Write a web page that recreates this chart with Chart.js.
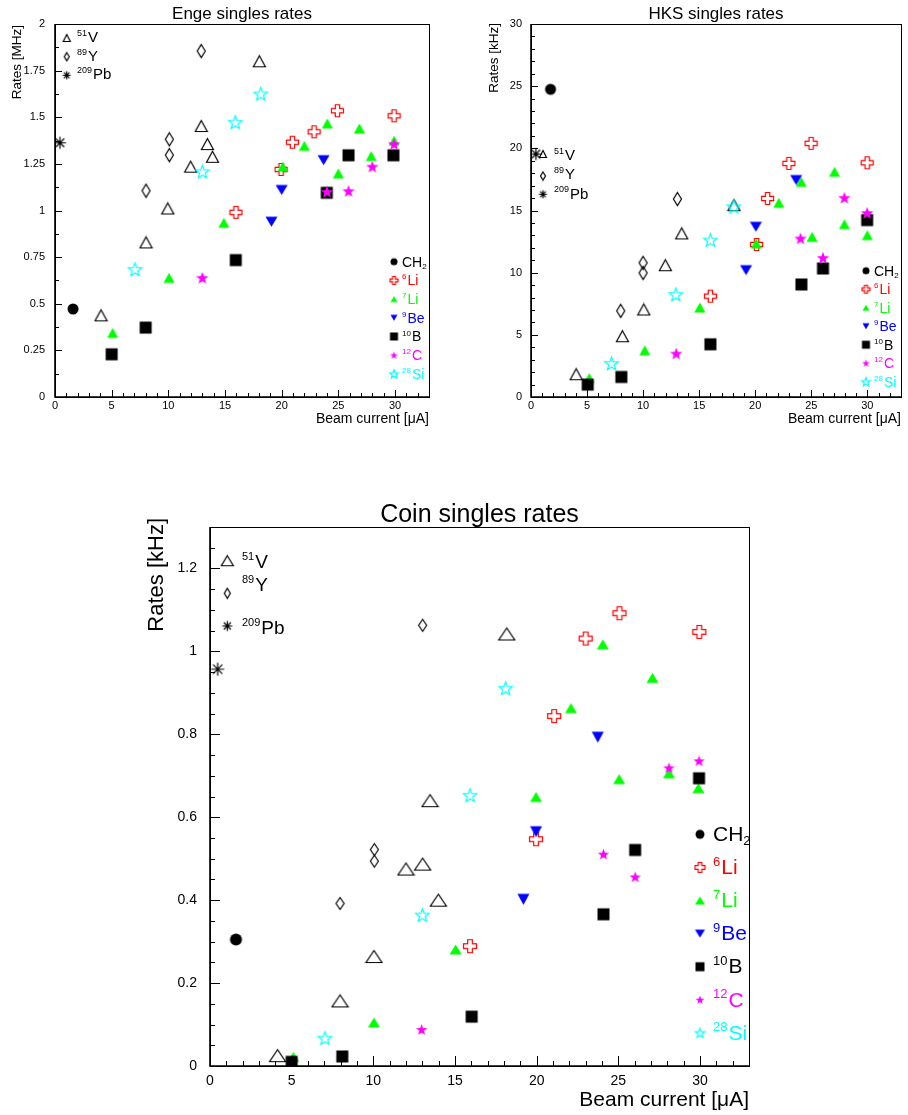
<!DOCTYPE html>
<html>
<head>
<meta charset="utf-8">
<script src="https://cdn.jsdelivr.net/npm/chart.js@4.4.1/dist/chart.umd.min.js"></script>
<style>
  body { margin: 0; background: #fff; width: 908px; height: 1115px; position: relative; overflow: hidden; }
  canvas { position: absolute; }
</style>
</head>
<body>
<canvas id="enge" width="440" height="432" style="left:0;top:0"></canvas>
<canvas id="hks" width="450" height="432" style="left:458px;top:0"></canvas>
<canvas id="coin" width="640" height="625" style="left:130px;top:490px"></canvas>
<script>
// ---- data (beam current in uA, rate) ----
const xTickVals = [0, 5, 10, 15, 20, 25, 30];
const xTickText = ['0', '5', '10', '15', '20', '25', '30'];

const engeYTickVals = [0, 0.25, 0.5, 0.75, 1, 1.25, 1.5, 1.75, 2];
const engeYTickText = ['0', '0.25', '0.5', '0.75', '1', '1.25', '1.5', '1.75', '2'];
const hksYTickVals = [0, 5, 10, 15, 20, 25, 30];
const hksYTickText = ['0', '5', '10', '15', '20', '25', '30'];
const coinYTickVals = [0, 0.2, 0.4, 0.6, 0.8, 1, 1.2];
const coinYTickText = ['0', '0.2', '0.4', '0.6', '0.8', '1', '1.2'];

const seriesSup  = ['51', '89', '209', '', '6', '7', '9', '10', '12', '28'];
const seriesMain = ['V', 'Y', 'Pb', 'CH', 'Li', 'Li', 'Be', 'B', 'C', 'Si'];
const seriesSub  = ['', '', '', '2', '', '', '', '', '', ''];
const seriesColors = ['#000000', '#000000', '#000000', '#000000', '#ff0000', '#00ff00', '#0000ff', '#000000', '#ff00ff', '#00ffff'];

// Enge [MHz]
const engeV = [[4.06, 0.438], [8.03, 0.829], [9.95, 1.011], [11.97, 1.235], [12.9, 1.453], [13.45, 1.356], [13.9, 1.288], [18.03, 1.80]];
const engeY = [[8.03, 1.106], [10.09, 1.297], [10.09, 1.382], [12.9, 1.855]];
const engePb = [[0.44, 1.363]];
const engeCH2 = [[1.59, 0.472]];
const engeLi6 = [[15.97, 0.99], [19.95, 1.22], [20.95, 1.366], [22.86, 1.422], [24.92, 1.535], [29.92, 1.508]];
const engeLi7 = [[5.09, 0.344], [10.06, 0.639], [14.9, 0.934], [20.1, 1.235], [22.0, 1.347], [24.03, 1.467], [25.0, 1.199], [26.86, 1.44], [27.9, 1.292], [29.92, 1.374]];
const engeBe9 = [[19.1, 0.94], [20.0, 1.11], [23.7, 1.27]];
const engeB10 = [[5.0, 0.229], [8.0, 0.372], [15.95, 0.734], [23.98, 1.095], [25.9, 1.296], [29.86, 1.296]];
const engeC12 = [[13.0, 0.639], [24.0, 1.10], [25.9, 1.104], [28.0, 1.235], [29.92, 1.356]];
const engeSi28 = [[7.06, 0.684], [13.0, 1.208], [15.9, 1.473], [18.15, 1.625]];

// HKS [kHz]
const hksV = [[4.03, 1.83], [8.15, 4.89], [10.06, 7.04], [11.98, 10.6], [13.44, 13.16], [18.1, 15.43]];
const hksY = [[8.0, 6.93], [10.0, 9.98], [10.0, 10.79], [13.06, 15.92]];
const hksPb = [[0.44, 19.54]];
const hksCH2 = [[1.74, 24.75]];
const hksLi6 = [[16.0, 8.11], [20.12, 12.27], [21.1, 15.97], [23.0, 18.79], [24.98, 20.4], [29.98, 18.84]];
const hksLi7 = [[5.2, 1.53], [10.15, 3.76], [15.06, 7.2], [20.1, 12.35], [22.1, 15.62], [24.1, 17.31], [25.07, 12.88], [27.07, 18.12], [27.95, 13.9], [30.0, 13.02]];
const hksBe9 = [[19.18, 10.2], [20.06, 13.69], [23.65, 17.45]];
const hksB10 = [[5.06, 1.0], [8.06, 1.61], [16.0, 4.24], [24.12, 9.05], [26.04, 10.34], [29.98, 14.23]];
const hksC12 = [[12.95, 3.49], [24.04, 12.75], [26.04, 11.19], [27.95, 16.02], [29.98, 14.8]];
const hksSi28 = [[7.18, 2.69], [12.92, 8.24], [16.0, 12.62], [18.09, 15.3]];

// Coin [kHz]
const coinV = [[4.14, 0.025], [7.96, 0.157], [10.04, 0.264], [12.0, 0.475], [13.02, 0.487], [13.47, 0.64], [13.98, 0.40], [18.17, 1.042]];
const coinY = [[7.96, 0.392], [10.06, 0.494], [10.06, 0.522], [13.02, 1.063]];
const coinPb = [[0.47, 0.957]];
const coinCH2 = [[1.59, 0.305]];
const coinLi6 = [[15.92, 0.289], [19.96, 0.547], [21.07, 0.844], [23.0, 1.031], [25.07, 1.092], [29.96, 1.047]];
const coinLi7 = [[5.1, 0.022], [10.04, 0.105], [15.04, 0.281], [19.96, 0.649], [22.1, 0.863], [24.05, 1.017], [25.05, 0.692], [27.09, 0.936], [28.1, 0.706], [29.9, 0.67]];
const coinBe9 = [[19.19, 0.402], [19.96, 0.565], [23.74, 0.793]];
const coinB10 = [[5.0, 0.01], [8.1, 0.023], [16.02, 0.119], [24.09, 0.366], [26.03, 0.521], [29.94, 0.694]];
const coinC12 = [[12.96, 0.088], [24.09, 0.511], [26.03, 0.456], [28.1, 0.719], [29.94, 0.736]];
const coinSi28 = [[7.04, 0.067], [13.0, 0.364], [15.92, 0.653], [18.1, 0.911]];

// ---- styling ----
const FONT = '"Liberation Sans", Arial, sans-serif';
const font = s => s + 'px ' + FONT;
const shapes = ['otri', 'diamond', 'aster', 'circle', 'ocross', 'tri', 'dtri', 'square', 'star', 'ostar'];

// draws a PAW-like marker into its own small canvas (used as pointStyle)
function marker(shape, color, w, h) {
  const c = document.createElement('canvas');
  c.width = w + 3; c.height = h + 3;
  const g = c.getContext('2d');
  g.translate(c.width / 2, c.height / 2);
  g.fillStyle = color; g.strokeStyle = color; g.lineWidth = 1.2;
  const a = w / 2, b = h / 2;
  g.beginPath();
  if (shape === 'otri' || shape === 'tri') {
    g.moveTo(0, -b); g.lineTo(a, b); g.lineTo(-a, b); g.closePath();
  } else if (shape === 'dtri') {
    g.moveTo(-a, -b); g.lineTo(a, -b); g.lineTo(0, b); g.closePath();
  } else if (shape === 'diamond') {
    g.moveTo(0, -b); g.lineTo(a, 0); g.lineTo(0, b); g.lineTo(-a, 0); g.closePath();
  } else if (shape === 'circle') {
    g.arc(0, 0, a, 0, Math.PI * 2);
  } else if (shape === 'square') {
    g.rect(-a, -b, w, h);
  } else if (shape === 'ocross') {
    const t = a * 0.36;
    g.moveTo(-t, -a); g.lineTo(t, -a); g.lineTo(t, -t); g.lineTo(a, -t); g.lineTo(a, t); g.lineTo(t, t);
    g.lineTo(t, a); g.lineTo(-t, a); g.lineTo(-t, t); g.lineTo(-a, t); g.lineTo(-a, -t); g.lineTo(-t, -t); g.closePath();
  } else if (shape === 'star' || shape === 'ostar') {
    for (let k = 0; k < 10; k++) {
      const r = k % 2 ? a * 0.42 : a;
      const ang = -Math.PI / 2 + k * Math.PI / 5;
      g.lineTo(Math.cos(ang) * r, Math.sin(ang) * r + a * 0.08);
    }
    g.closePath();
  } else if (shape === 'aster') {
    for (let k = 0; k < 4; k++) {
      const ang = k * Math.PI / 4;
      g.moveTo(-Math.cos(ang) * a, -Math.sin(ang) * a);
      g.lineTo(Math.cos(ang) * a, Math.sin(ang) * a);
    }
  }
  if (['otri', 'diamond', 'ocross', 'ostar', 'aster'].includes(shape)) g.stroke(); else g.fill();
  return c;
}

function isoText(ctx, x, y, i, size) {
  ctx.fillStyle = seriesColors[i];
  ctx.textAlign = 'left'; ctx.textBaseline = 'middle';
  let cx = x;
  if (seriesSup[i]) {
    ctx.font = font(Math.round(size * 0.6));
    ctx.fillText(seriesSup[i], cx, y - size * 0.3);
    cx += ctx.measureText(seriesSup[i]).width + 1;
  }
  ctx.font = font(size);
  ctx.fillText(seriesMain[i], cx, y);
  cx += ctx.measureText(seriesMain[i]).width;
  if (seriesSub[i]) {
    ctx.font = font(Math.round(size * 0.6));
    ctx.fillText(seriesSub[i], cx, y + size * 0.3);
  }
}

// frame, inward ticks, titles and in-plot legends
function decor(p) {
  return {
    id: 'decor',
    afterDraw(chart) {
      const ctx = chart.ctx, A = chart.chartArea;
      const xs = chart.scales.x, ys = chart.scales.y;
      ctx.save();
      ctx.strokeStyle = '#000'; ctx.lineWidth = 1;
      ctx.strokeRect(A.left + 0.5, A.top + 0.5, A.right - A.left, A.bottom - A.top);
      ctx.lineWidth = 1.6;
      ctx.beginPath(); ctx.moveTo(A.left, A.top); ctx.lineTo(A.left, A.bottom); ctx.lineTo(A.right, A.bottom); ctx.stroke();
      ctx.lineWidth = 1;
      ctx.beginPath();
      for (let v = 0; v <= 33; v++) {
        const len = xTickVals.includes(v) ? p.tickMajor : p.tickMinor;
        const px = Math.round(xs.getPixelForValue(v)) + 0.5;
        ctx.moveTo(px, A.bottom); ctx.lineTo(px, A.bottom - len);
      }
      const ny = Math.round(p.yMax / p.yMinor);
      for (let k = 0; k <= ny; k++) {
        const v = k * p.yMinor;
        const major = p.yVals.some(t => Math.abs(t - v) < 1e-6);
        const py = Math.round(ys.getPixelForValue(v)) + 0.5;
        ctx.moveTo(A.left, py); ctx.lineTo(A.left + (major ? p.tickMajor : p.tickMinor), py);
      }
      ctx.stroke();

      // titles
      ctx.fillStyle = '#000';
      ctx.font = font(p.titleSize); ctx.textAlign = 'center'; ctx.textBaseline = 'alphabetic';
      ctx.fillText(p.title, (A.left + A.right) / 2, A.top - p.titleGap);
      ctx.font = font(p.yAxisSize);
      ctx.save();
      ctx.translate(A.left - p.yTitleDx, A.top + p.yTitleDy);
      ctx.rotate(-Math.PI / 2);
      ctx.textAlign = 'right'; ctx.textBaseline = 'middle';
      ctx.fillText(p.yTitle, 0, 0);
      ctx.restore();
      ctx.font = font(p.xAxisSize);
      ctx.textAlign = 'right'; ctx.textBaseline = 'middle';
      ctx.fillText('Beam current [\u03bcA]', A.right, A.bottom + p.xTitleDy);

      // legends inside the frame
      p.leftLegend.forEach((row, j) => {
        const m = marker(shapes[j], seriesColors[j], p.legLeftMk[j][0], p.legLeftMk[j][1]);
        ctx.drawImage(m, A.left + p.legLeftX - m.width / 2, A.top + row[0] - m.height / 2);
        isoText(ctx, A.left + p.legLeftText, A.top + row[1], j, p.legLeftSize);
      });
      for (let j = 3; j < 10; j++) {
        const y = A.bottom - p.legRightY0 + (j - 3) * p.legRightStep;
        const m = marker(shapes[j], seriesColors[j], p.legRightMk[j - 3][0], p.legRightMk[j - 3][1]);
        ctx.drawImage(m, A.right - p.legRightX - m.width / 2, y - m.height / 2);
        isoText(ctx, A.right - p.legRightX + p.legRightText, y + 1, j, p.legRightSize);
      }
      ctx.restore();
    }
  };
}

function buildChart(id, series, p) {
  const datasets = series.map((pts, i) => ({
    label: seriesMain[i],
    data: pts.map(([x, y]) => ({ x, y })),
    pointStyle: marker(shapes[i], seriesColors[i], p.mk[i][0], p.mk[i][1]),
    pointRadius: 6,
    pointHoverRadius: 6,
    order: series.length - i
  }));
  new Chart(document.getElementById(id), {
    type: 'scatter',
    data: { datasets },
    options: {
      responsive: false,
      animation: false,
      layout: { padding: p.pad },
      plugins: { legend: { display: false }, tooltip: { enabled: false } },
      scales: {
        x: {
          type: 'linear', min: 0, max: 33,
          grid: { display: false, drawTicks: false }, border: { display: false },
          afterBuildTicks: s => { s.ticks = xTickVals.map(v => ({ value: v })); },
          afterFit: s => { s.height = p.xH; },
          ticks: {
            autoSkip: false, maxRotation: 0, padding: p.xPad, color: '#000',
            font: { family: FONT, size: p.tickSize },
            callback: v => xTickText[xTickVals.indexOf(v)]
          }
        },
        y: {
          type: 'linear', min: 0, max: p.yMax,
          grid: { display: false, drawTicks: false }, border: { display: false },
          afterBuildTicks: s => { s.ticks = p.yVals.map(v => ({ value: v })); },
          afterFit: s => { s.width = p.yW; },
          ticks: {
            padding: p.yPad, color: '#000',
            font: { family: FONT, size: p.tickSize },
            callback: v => p.yText[p.yVals.indexOf(v)]
          }
        }
      }
    },
    plugins: [decor(p)]
  });
}

const topMk = [[12, 11], [8, 13], [12, 12], [11, 11], [12, 12], [11, 10], [12, 10], [12, 12], [13, 13], [14, 14]];
const topLegLeftMk = [[7, 7], [5, 8], [8, 8]];
const topLegRightMk = [[7, 7], [8, 8], [7, 6], [7, 6], [8, 8], [8, 8], [9, 9]];

buildChart('enge',
  [engeV, engeY, engePb, engeCH2, engeLi6, engeLi7, engeBe9, engeB10, engeC12, engeSi28],
  {
    pad: { left: 0, top: 24, right: 11, bottom: 0 }, yW: 55, xH: 35, xPad: 2, yPad: 10,
    yMax: 2, yMinor: 0.125, yVals: engeYTickVals, yText: engeYTickText,
    tickSize: 11, tickMajor: 7, tickMinor: 4, mk: topMk,
    title: 'Enge singles rates', titleSize: 17, titleGap: 5,
    yTitle: 'Rates [MHz]', yAxisSize: 13.5, xAxisSize: 14, yTitleDx: 37.5, yTitleDy: 1, xTitleDy: 22,
    leftLegend: [[14, 14], [32.7, 32.7], [51.3, 51.3]], legLeftX: 11.7, legLeftText: 22, legLeftSize: 15, legLeftMk: topLegLeftMk,
    legRightX: 35, legRightY0: 135.3, legRightStep: 18.7, legRightText: 8, legRightSize: 14, legRightMk: topLegRightMk
  });

buildChart('hks',
  [hksV, hksY, hksPb, hksCH2, hksLi6, hksLi7, hksBe9, hksB10, hksC12, hksSi28],
  {
    pad: { left: 0, top: 24, right: 2, bottom: 0 }, yW: 73, xH: 35, xPad: 2, yPad: 9,
    yMax: 30, yMinor: 1, yVals: hksYTickVals, yText: hksYTickText,
    tickSize: 11, tickMajor: 7, tickMinor: 4, mk: topMk,
    title: 'HKS singles rates', titleSize: 17, titleGap: 5,
    yTitle: 'Rates [kHz]', yAxisSize: 13.5, xAxisSize: 14, yTitleDx: 36.5, yTitleDy: -1, xTitleDy: 22,
    leftLegend: [[130, 131.8], [152, 150.7], [170.3, 170.5]], legLeftX: 12, legLeftText: 23, legLeftSize: 15, legLeftMk: topLegLeftMk,
    legRightX: 35, legRightY0: 126.3, legRightStep: 18.5, legRightText: 8, legRightSize: 14, legRightMk: topLegRightMk
  });

buildChart('coin',
  [coinV, coinY, coinPb, coinCH2, coinLi6, coinLi7, coinBe9, coinB10, coinC12, coinSi28],
  {
    pad: { left: 0, top: 37, right: 21, bottom: 0 }, yW: 80, xH: 49, xPad: 7, yPad: 13,
    yMax: 1.3, yMinor: 0.05, yVals: coinYTickVals, yText: coinYTickText,
    tickSize: 14, tickMajor: 10, tickMinor: 5,
    mk: [[16, 12], [8, 12], [13, 13], [12, 12], [13, 13], [12, 10], [12, 11], [12, 12], [12, 12], [14, 14]],
    title: 'Coin singles rates', titleSize: 25, titleGap: 5,
    yTitle: 'Rates [kHz]', yAxisSize: 22, xAxisSize: 21, yTitleDx: 53.3, yTitleDy: -9, xTitleDy: 34,
    leftLegend: [[33.7, 35.7], [66.3, 59], [99, 101.7]], legLeftX: 17.3, legLeftText: 32, legLeftSize: 19,
    legLeftMk: [[12, 10], [6, 10], [10, 10]],
    legRightX: 49, legRightY0: 231.7, legRightStep: 33.1, legRightText: 13, legRightSize: 21,
    legRightMk: [[9, 9], [10, 10], [10, 8], [10, 8], [9, 9], [9, 9], [10, 10]]
  });
</script>
</body>
</html>
